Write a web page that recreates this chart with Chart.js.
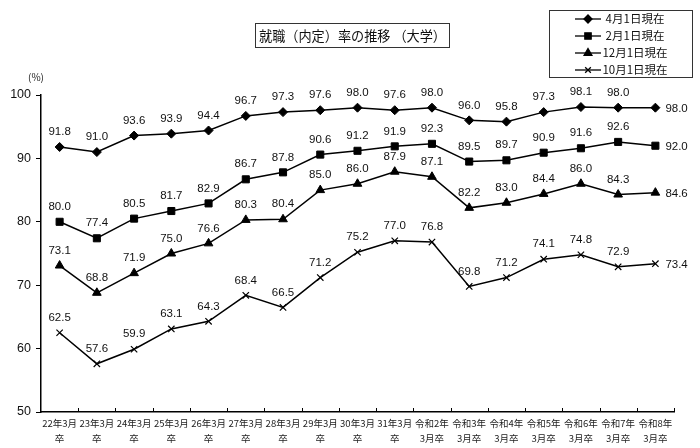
<!DOCTYPE html>
<html>
<head>
<meta charset="utf-8">
<script src="https://cdn.jsdelivr.net/npm/chart.js@4.4.1/dist/chart.umd.min.js"></script>
<style>
  html, body { margin: 0; padding: 0; background: #fff; }
  #wrap { width: 700px; height: 448px; position: relative; }
</style>
</head>
<body>
<div id="wrap"><canvas id="rateChart" width="700" height="448"></canvas></div>
<script>
// 卒業年次
const categories = [
    ['22年3月', '卒'], ['23年3月', '卒'], ['24年3月', '卒'], ['25年3月', '卒'],
    ['26年3月', '卒'], ['27年3月', '卒'], ['28年3月', '卒'], ['29年3月', '卒'],
    ['30年3月', '卒'], ['31年3月', '卒'], ['令和2年', '3月卒'], ['令和3年', '3月卒'],
    ['令和4年', '3月卒'], ['令和5年', '3月卒'], ['令和6年', '3月卒'], ['令和7年', '3月卒'],
    ['令和8年', '3月卒']
];

const april = [91.8, 91.0, 93.6, 93.9, 94.4, 96.7, 97.3, 97.6, 98.0, 97.6, 98.0, 96.0, 95.8, 97.3, 98.1, 98.0, 98.0];
const february = [80.0, 77.4, 80.5, 81.7, 82.9, 86.7, 87.8, 90.6, 91.2, 91.9, 92.3, 89.5, 89.7, 90.9, 91.6, 92.6, 92.0];
const december = [73.1, 68.8, 71.9, 75.0, 76.6, 80.3, 80.4, 85.0, 86.0, 87.9, 87.1, 82.2, 83.0, 84.4, 86.0, 84.3, 84.6];
const october = [62.5, 57.6, 59.9, 63.1, 64.3, 68.4, 66.5, 71.2, 75.2, 77.0, 76.8, 69.8, 71.2, 74.1, 74.8, 72.9, 73.4];

const yTicks = [50, 60, 70, 80, 90, 100];

const seriesNames = ['4月1日現在', '2月1日現在', '12月1日現在', '10月1日現在'];
const seriesMarkers = ['rectRot', 'rect', 'triangle', 'crossRot'];
const markerSizes = [4.5, 5, 5, 4.5];

const FONT = '"Liberation Sans", Arial, "Noto Sans CJK JP", sans-serif';
const JP_FONT = '"Noto Sans CJK JP", "Liberation Sans", sans-serif';

function makeDataset(label, data, marker, size) {
    return {
        label: label,
        data: data,
        borderColor: '#000',
        backgroundColor: '#000',
        borderWidth: 1.5,
        pointStyle: marker,
        pointRadius: size,
        pointBorderWidth: marker === 'crossRot' ? 1.2 : 1,
        pointBorderColor: '#000',
        pointBackgroundColor: '#000',
        tension: 0
    };
}

const valueLabels = {
    id: 'valueLabels',
    afterDatasetsDraw(chart) {
        const ctx = chart.ctx;
        ctx.save();
        ctx.fillStyle = '#111';
        ctx.font = '11.5px ' + FONT;
        chart.data.datasets.forEach((ds, di) => {
            const meta = chart.getDatasetMeta(di);
            meta.data.forEach((pt, i) => {
                const txt = ds.data[i].toFixed(1);
                ctx.textBaseline = 'middle';
                if (i === ds.data.length - 1) {
                    ctx.textAlign = 'left';
                    ctx.fillText(txt, pt.x + 10, pt.y + 1);
                } else {
                    ctx.textAlign = 'center';
                    ctx.fillText(txt, pt.x, pt.y - 15);
                }
            });
        });
        ctx.restore();
    }
};

const decorations = {
    id: 'decorations',
    afterDraw(chart) {
        const ctx = chart.ctx;
        const xs = chart.scales.x;
        ctx.save();

        // x-axis inner ticks at category boundaries
        ctx.strokeStyle = '#000';
        ctx.lineWidth = 1;
        const n = categories.length;
        const step = (xs.right - xs.left) / n;
        for (let i = 1; i <= n; i++) {
            const x = Math.round(xs.left + i * step) + 0.5;
            ctx.beginPath();
            ctx.moveTo(x, xs.top);
            ctx.lineTo(x, xs.top - 4);
            ctx.stroke();
        }

        // unit label
        ctx.fillStyle = '#222';
        ctx.font = '10px ' + JP_FONT;
        ctx.textAlign = 'left';
        ctx.textBaseline = 'middle';
        ctx.fillText('(%)', 28, 77);

        // title box
        ctx.lineWidth = 1;
        ctx.strokeStyle = '#333';
        ctx.strokeRect(255.5, 23.5, 194, 24);
        ctx.fillStyle = '#111';
        ctx.font = '14px ' + JP_FONT;
        ctx.textAlign = 'left';
        ctx.fillText('就職（内定）率の推移 （大学）', 259, 36, 187);

        // legend box
        ctx.strokeRect(549.5, 10.5, 143, 67);
        const rowY = [19, 36, 53, 70];
        ctx.font = '11.5px ' + JP_FONT;
        ctx.textAlign = 'center';
        seriesNames.forEach((name, k) => {
            const y = rowY[k];
            ctx.strokeStyle = '#000';
            ctx.lineWidth = 1.3;
            ctx.beginPath();
            ctx.moveTo(575, y);
            ctx.lineTo(601, y);
            ctx.stroke();
            ctx.fillStyle = '#000';
            Chart.helpers.drawPoint(ctx, {
                pointStyle: seriesMarkers[k],
                radius: markerSizes[k] - 0.5,
                borderWidth: 1.2
            }, 588, y);
            ctx.fillStyle = '#111';
            ctx.fillText(name, 635, y);
        });
        ctx.restore();
    }
};

new Chart(document.getElementById('rateChart').getContext('2d'), {
    type: 'line',
    data: {
        labels: categories,
        datasets: [
            makeDataset(seriesNames[0], april, seriesMarkers[0], markerSizes[0]),
            makeDataset(seriesNames[1], february, seriesMarkers[1], markerSizes[1]),
            makeDataset(seriesNames[2], december, seriesMarkers[2], markerSizes[2]),
            makeDataset(seriesNames[3], october, seriesMarkers[3], markerSizes[3])
        ]
    },
    options: {
        responsive: false,
        animation: false,
        layout: {
            padding: { top: 95, right: 26, bottom: 0, left: 0 }
        },
        plugins: {
            legend: { display: false },
            title: { display: false },
            tooltip: { enabled: false }
        },
        scales: {
            x: {
                type: 'category',
                offset: true,
                grid: { display: false, drawTicks: false },
                border: { display: true, color: '#000', width: 1.5 },
                afterFit(scale) { scale.height = 36; },
                ticks: {
                    color: '#222',
                    padding: 4,
                    maxRotation: 0,
                    autoSkip: false,
                    font: { family: JP_FONT, size: 9.5, lineHeight: 1.55 }
                }
            },
            y: {
                min: 50,
                max: 100,
                afterFit(scale) { scale.width = 41; },
                afterBuildTicks(scale) {
                    scale.ticks = yTicks.map(v => ({ value: v }));
                },
                border: { display: true, color: '#000', width: 1.5 },
                grid: {
                    display: true,
                    drawOnChartArea: false,
                    drawTicks: true,
                    tickLength: 5,
                    color: '#000'
                },
                ticks: {
                    color: '#111',
                    padding: 5,
                    font: { family: FONT, size: 12.5 }
                }
            }
        }
    },
    plugins: [valueLabels, decorations]
});
</script>
</body>
</html>
